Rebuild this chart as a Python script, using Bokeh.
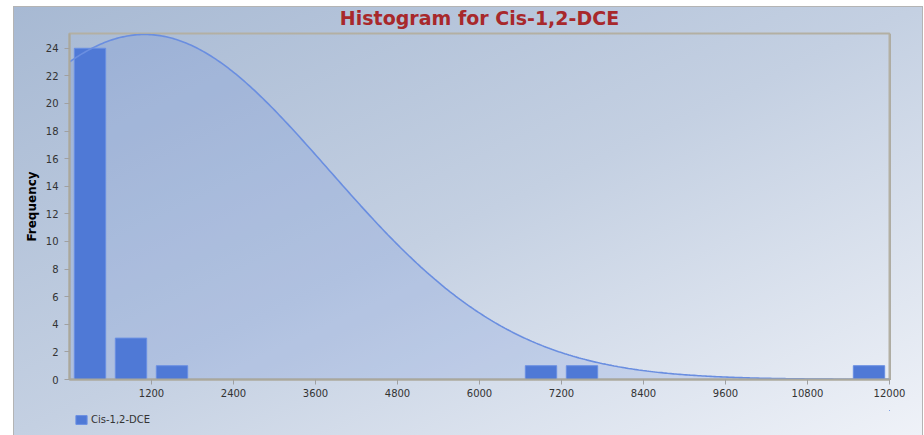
import numpy as np
from bokeh.plotting import figure
from bokeh.layouts import column
from bokeh.models import ColumnDataSource, FixedTicker, Legend, LegendItem, Range1d
from bokeh.embed import file_html
from bokeh.resources import INLINE

# Histogram of Cis-1,2-DCE concentrations (bins 600 wide)
bin_centers = [300, 900, 1500, 6900, 7500, 11700]
frequencies = [24, 3, 1, 1, 1, 1]
bin_width = 600
series_name = "Cis-1,2-DCE"

x_ticks = [1200, 2400, 3600, 4800, 6000, 7200, 8400, 9600, 10800, 12000]
y_ticks = [0, 2, 4, 6, 8, 10, 12, 14, 16, 18, 20, 22, 24]

# Normal-curve overlay parameters
curve_mean = 1100
curve_sd = 2700
curve_peak = 25

FONT = "DejaVu Sans"
BAR_FILL = "#4f79d6"
BAR_EDGE = "#6a8fe3"

p = figure(
    width=924, height=410,
    output_backend="svg", toolbar_location=None,
    x_range=Range1d(0, 12000), y_range=Range1d(0, 25.07),
    min_border_left=69, min_border_right=35,
    min_border_top=33, min_border_bottom=31,
    title="Histogram for Cis-1,2-DCE",
)

p.border_fill_color = None
p.background_fill_color = None
p.outline_line_color = "#b3b0a3"
p.outline_line_width = 2

p.title.align = "center"
p.title.text_color = "#a8282b"
p.title.text_font = FONT
p.title.text_font_style = "bold"
p.title.text_font_size = "19px"
p.title.standoff = 9

p.xgrid.visible = False
p.ygrid.visible = False

for ax in (p.xaxis[0], p.yaxis[0]):
    ax.axis_line_color = "#aaa89c"
    ax.axis_line_width = 2
    ax.major_tick_line_color = "#a0a0a0"
    ax.major_tick_out = 5
    ax.major_tick_in = 0
    ax.minor_tick_line_color = None
    ax.major_label_text_font = FONT
    ax.major_label_text_font_size = "10px"
    ax.major_label_text_color = "#333333"

p.xaxis.ticker = FixedTicker(ticks=x_ticks)
p.yaxis.ticker = FixedTicker(ticks=y_ticks)
p.xaxis.major_label_standoff = 4
p.yaxis.major_label_standoff = 6

p.yaxis.axis_label = "Frequency"
p.yaxis.axis_label_text_font = FONT
p.yaxis.axis_label_text_font_style = "bold"
p.yaxis.axis_label_text_font_size = "12px"
p.yaxis.axis_label_text_color = "#000000"
p.yaxis.axis_label_standoff = 4

# Normal curve with shaded area beneath it
xs = np.linspace(0, 12000, 400)
ys = curve_peak * np.exp(-0.5 * ((xs - curve_mean) / curve_sd) ** 2)
curve_src = ColumnDataSource(dict(x=xs, y=ys, y0=np.zeros_like(xs)))
p.varea(x="x", y1="y0", y2="y", source=curve_src, fill_color="#5b80d8", fill_alpha=0.18)

bar_src = ColumnDataSource(dict(x=bin_centers, top=frequencies))
p.vbar(x="x", top="top", width=bin_width * 0.765, bottom=0, source=bar_src,
       fill_color=BAR_FILL, line_color=BAR_EDGE, line_width=1)

p.line(x="x", y="y", source=curve_src, line_color="#6a8ee0", line_width=1.6)

# Legend strip underneath the chart; its renderer shares the bar data but
# lies outside this strip's ranges, so only the legend swatch shows
leg = figure(
    width=924, height=25,
    output_backend="svg", toolbar_location=None,
    x_range=Range1d(-1, 0), y_range=Range1d(-1, 0),
    x_axis_type=None, y_axis_type=None,
    min_border=0,
)
leg.border_fill_color = None
leg.background_fill_color = None
leg.outline_line_color = None
leg.xgrid.visible = False
leg.ygrid.visible = False
swatch = leg.vbar(x="x", top="top", width=bin_width * 0.765, bottom=0, source=bar_src,
                  fill_color=BAR_FILL, line_color=BAR_EDGE, line_width=1)

legend = Legend(
    items=[LegendItem(label=series_name, renderers=[swatch])],
    location=(5, 10), orientation="horizontal",
    margin=0, padding=6, spacing=0,
    border_line_color=None, background_fill_alpha=0,
    label_text_font=FONT, label_text_font_size="10px", label_text_color="#333333",
    glyph_width=14, glyph_height=11, label_standoff=3, label_height=11,
)
leg.add_layout(legend, "center")

# Panel background: white margin, thin grey frame and a diagonal blue-grey gradient
line = "linear-gradient(#b4b4b4,#b4b4b4)"
shade = "linear-gradient(#a9a9a2,#a9a9a2)"
layout = column(p, leg, spacing=0, width=924, height=435)
layout.styles = {
    "background": ", ".join([
        f"{line} 13px 6px / 910px 1px no-repeat",
        f"{line} 13px 6px / 1px 429px no-repeat",
        f"{line} 922px 6px / 1px 429px no-repeat",
        f"{shade} 889px 34px / 2px 346px no-repeat",
        "linear-gradient(to bottom right, #a7b9d3 0%, #c4d0e2 50%, #eff2f8 100%) 14px 7px / 908px 428px no-repeat",
        "#ffffff",
    ])
}

open("out.html", "w").write(file_html(layout, INLINE))
